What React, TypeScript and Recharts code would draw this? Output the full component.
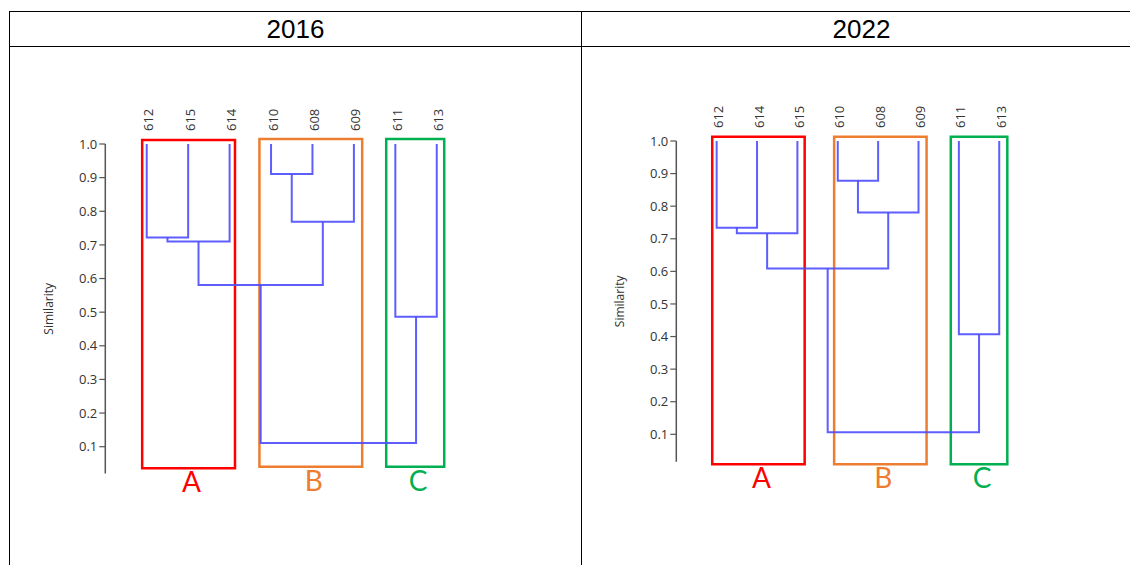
import React from 'react';
import { ComposedChart, Line, XAxis, YAxis, ReferenceArea } from 'recharts';

// leaf order along the x axis
const leaves2016 = ['612', '615', '614', '610', '608', '609', '611', '613'];
const leaves2022 = ['612', '614', '615', '610', '608', '609', '611', '613'];

// merges: [left node, right node, similarity]; nodes 0-7 are the leaves,
// every merge creates the next node id (8, 9, ...)
const merges2016: [number, number, number][] = [
  [0, 1, 0.722],
  [8, 2, 0.71],
  [3, 4, 0.911],
  [10, 5, 0.769],
  [9, 11, 0.581],
  [6, 7, 0.486],
  [12, 13, 0.111],
];
const merges2022: [number, number, number][] = [
  [0, 1, 0.734],
  [8, 2, 0.717],
  [3, 4, 0.878],
  [10, 5, 0.781],
  [9, 11, 0.609],
  [6, 7, 0.407],
  [12, 13, 0.106],
];

const simTicks = [0.1, 0.2, 0.3, 0.4, 0.5, 0.6, 0.7, 0.8, 0.9, 1.0];
const leafTicks = [0, 1, 2, 3, 4, 5, 6, 7];

const groupNames = ['A', 'B', 'C'];
// group boxes in axis units: [x1, x2, y1, y2]
const groupBoxes2016: [number, number, number, number][] = [
  [-0.11, 2.13, 0.036, 1.012],
  [2.72, 5.2, 0.04, 1.015],
  [5.78, 7.18, 0.04, 1.015],
];
const groupBoxes2022: [number, number, number, number][] = [
  [-0.11, 2.18, 0.008, 1.013],
  [2.91, 5.2, 0.008, 1.013],
  [5.8, 7.2, 0.008, 1.013],
];

const GROUP_COLORS = ['#ff0000', '#ed7d31', '#00b050'];
const LINK_COLOR = '#4d4dff';
const AXIS_COLOR = '#555';
const TEXT_COLOR = '#333';
const FONT = '"Open Sans", "Noto Sans", sans-serif';
const PAGE_H = 565;
const Y_AXIS_W = 60;
const X_AXIS_H = 40;

// turn the merge list into U-shaped links (4 points each)
function buildLinks(nLeaves: number, merges: [number, number, number][]) {
  const nx: number[] = [];
  const ny: number[] = [];
  for (let i = 0; i < nLeaves; i++) {
    nx.push(i);
    ny.push(1.0);
  }
  const links: { x: number; y: number }[][] = [];
  merges.forEach(([a, b, h]) => {
    links.push([
      { x: nx[a], y: ny[a] },
      { x: nx[a], y: h },
      { x: nx[b], y: h },
      { x: nx[b], y: ny[b] },
    ]);
    nx.push((nx[a] + nx[b]) / 2);
    ny.push(h);
  });
  return links;
}

interface DendroProps {
  leaves: string[];
  merges: [number, number, number][];
  boxes: [number, number, number, number][];
  left: number;
  width: number;
  plotLeft: number;
  plotRight: number;
  plotTop: number;
  plotBottom: number;
  yMin: number;
}

function Dendrogram(p: DendroProps) {
  const links = buildLinks(p.leaves.length, p.merges);
  const margin = {
    left: p.plotLeft - p.left - Y_AXIS_W,
    right: p.left + p.width - p.plotRight,
    top: p.plotTop - X_AXIS_H,
    bottom: PAGE_H - p.plotBottom,
  };

  const LeafTick = (props: any) => {
    const { x, payload } = props;
    return (
      <text
        transform={`translate(${x + 1.5},${p.plotTop - 13}) rotate(-90)`}
        textAnchor="start"
        dominantBaseline="central"
        fontSize={13}
        fontFamily={FONT}
        fill={TEXT_COLOR}
      >
        {p.leaves[payload.value]}
      </text>
    );
  };

  return (
    <div style={{ position: 'absolute', left: p.left, top: 0 }}>
      <ComposedChart width={p.width} height={PAGE_H} margin={margin}>
        <XAxis
          xAxisId={0}
          dataKey="x"
          type="number"
          orientation="top"
          domain={[-1, 8]}
          ticks={leafTicks}
          height={X_AXIS_H}
          axisLine={false}
          tickLine={false}
          interval={0}
          tick={LeafTick}
        />
        <YAxis
          yAxisId={0}
          type="number"
          domain={[p.yMin, 1]}
          ticks={simTicks}
          width={Y_AXIS_W}
          interval={0}
          tickFormatter={(v: number) => v.toFixed(1)}
          tick={{ fontSize: 13, fontFamily: FONT, fill: TEXT_COLOR }}
          tickSize={6}
          tickMargin={2}
          axisLine={{ stroke: AXIS_COLOR, strokeWidth: 1.5 }}
          tickLine={{ stroke: AXIS_COLOR, strokeWidth: 1.2 }}
          label={{
            value: 'Similarity',
            angle: -90,
            position: 'insideLeft',
            offset: 3,
            textAnchor: 'middle',
            style: { fontSize: 12, fontFamily: FONT, fill: TEXT_COLOR },
          }}
        />
        {p.boxes.map(([x1, x2, y1, y2], i) => (
          <ReferenceArea
            key={'box' + i}
            x1={x1}
            x2={x2}
            y1={y1}
            y2={y2}
            ifOverflow="visible"
            fill="none"
            fillOpacity={0}
            stroke={GROUP_COLORS[i]}
            strokeWidth={2.5}
            label={{
              value: groupNames[i],
              position: 'bottom',
              offset: 4,
              dx: 3,
              fill: GROUP_COLORS[i],
              fontSize: 28,
              fontFamily: 'Lato, "Open Sans", sans-serif',
            }}
          />
        ))}
        {links.map((pts, i) => (
          <Line
            key={'link' + i}
            data={pts}
            dataKey="y"
            type="linear"
            stroke={LINK_COLOR}
            strokeOpacity={0.9}
            strokeWidth={2}
            dot={false}
            activeDot={false}
            legendType="none"
            isAnimationActive={false}
          />
        ))}
      </ComposedChart>
    </div>
  );
}

const line = (s: React.CSSProperties): React.CSSProperties => ({
  position: 'absolute',
  background: '#000',
  ...s,
});

const titleStyle: React.CSSProperties = {
  position: 'absolute',
  top: 12,
  height: 34,
  lineHeight: '34px',
  textAlign: 'center',
  fontSize: 26,
  fontFamily: '"Liberation Sans", Arial, sans-serif',
  color: '#000',
};

export default function App() {
  return (
    <div
      style={{
        position: 'absolute',
        left: 0,
        top: 0,
        width: 1130,
        height: PAGE_H,
        background: '#fff',
        overflow: 'hidden',
      }}
    >
      <div style={line({ left: 9, top: 11, width: 1140, height: 1 })} />
      <div style={line({ left: 9, top: 46, width: 1140, height: 1 })} />
      <div style={line({ left: 9, top: 11, width: 1, height: 560 })} />
      <div style={line({ left: 581, top: 11, width: 1, height: 560 })} />
      <div style={{ ...titleStyle, left: 10, width: 571 }}>2016</div>
      <div style={{ ...titleStyle, left: 582, width: 559 }}>2022</div>

      <Dendrogram
        leaves={leaves2016}
        merges={merges2016}
        boxes={groupBoxes2016}
        left={0}
        width={581}
        plotLeft={105.3}
        plotRight={478.2}
        plotTop={144}
        plotBottom={473.6}
        yMin={0.02}
      />
      <Dendrogram
        leaves={leaves2022}
        merges={merges2022}
        boxes={groupBoxes2022}
        left={581}
        width={549}
        plotLeft={676.3}
        plotRight={1039.6}
        plotTop={141}
        plotBottom={461.7}
        yMin={0.016}
      />
    </div>
  );
}
